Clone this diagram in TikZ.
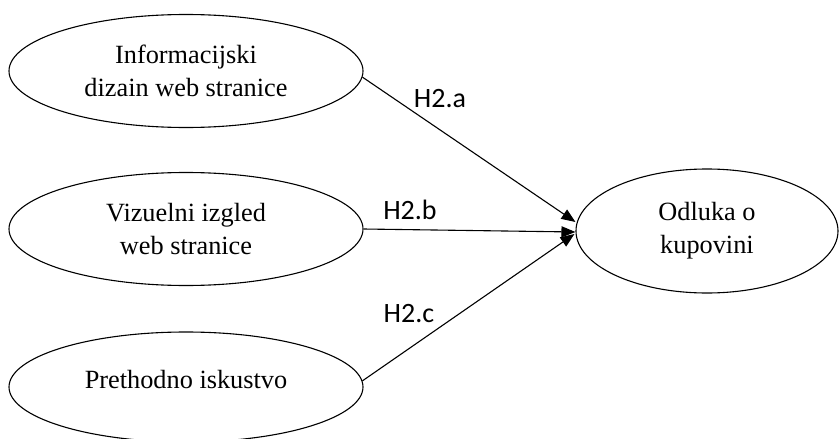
\documentclass[tikz,border=0pt]{standalone}
\usepackage{fontspec}
\setmainfont{Liberation Serif}
\newfontfamily\hlabelfont{Carlito}
\usetikzlibrary{shapes.geometric,arrows.meta}
\tikzset{
  construct/.style={ellipse, draw, line width=1.1pt, inner sep=0pt,
    align=center, font=\fontsize{26.3}{33}\selectfont},
  leftbox/.style={construct, minimum width=354pt, minimum height=113pt},
  path/.style={line width=1.1pt, -{Triangle[length=14pt,width=11pt]}},
  hyp/.style={font=\hlabelfont\fontsize{28}{32}\selectfont, inner sep=0pt}
}
\begin{document}
\begin{tikzpicture}[x=1pt,y=-1pt]
  \useasboundingbox (0,0) rectangle (839,439);
  % predictors on the left
  \node[leftbox] (info) at (186,71) {Informacijski\\dizain web stranice};
  \node[leftbox] (vis)  at (186,229) {Vizuelni izgled\\web stranice};
  \node[leftbox, minimum height=110pt] (exp) at (186,387)
    {\raisebox{7pt}[\height][\depth]{Prethodno iskustvo}};
  % outcome on the right
  \node[construct, minimum width=262pt, minimum height=124pt] (dec) at (707,231) {Odluka o\\kupovini};
  % hypothesised paths
  \draw[path] (info.-2) -- ([yshift=9pt]dec.west);
  \draw[path] (vis.east) -- ([yshift=-1pt]dec.west);
  \draw[path] (exp.2) -- ([yshift=-3pt,xshift=-1pt]dec.west);
  % path labels
  \node[hyp] (ha) at (440,99) {H2.a};
  \node[hyp] (hb) at (410,210) {H2.b};
  \node[hyp] (hc) at (409,314) {H2.c};
\end{tikzpicture}
\end{document}
